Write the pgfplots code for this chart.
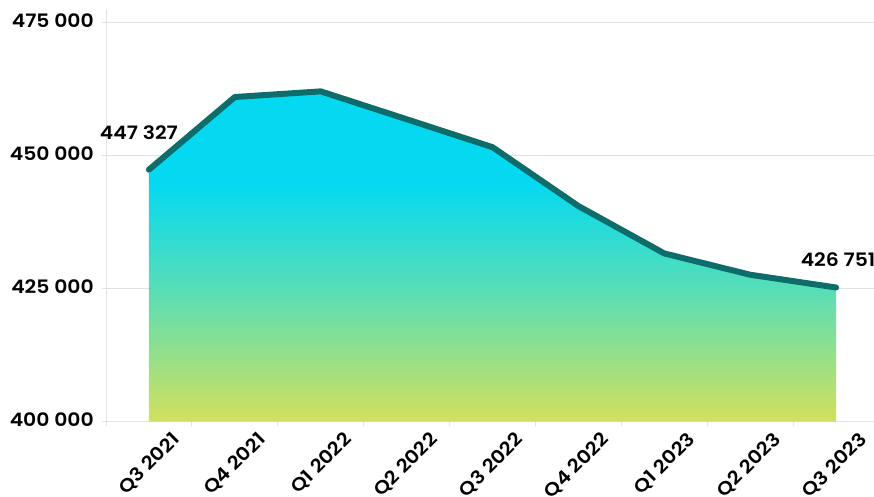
\documentclass[border=0pt]{standalone}
\usepackage{fontspec}
\setmainfont{Poppins}[BoldFont={Poppins SemiBold}, FakeStretch=1.1]
\usepackage{pgfplots}
\pgfplotsset{compat=1.18}

\definecolor{linecol}{RGB}{14,108,106}
\definecolor{topcyan}{RGB}{4,217,241}
\definecolor{midmint}{RGB}{88,222,182}
\definecolor{lowgreen}{RGB}{211,224,93}
\definecolor{gridgray}{RGB}{226,226,226}

% area fill: yellow-green at the bottom, cyan at the top
\pgfdeclareverticalshading{areagrad}{100bp}{color(0bp)=(lowgreen); color(25bp)=(lowgreen); color(45bp)=(midmint); color(61bp)=(topcyan); color(100bp)=(topcyan)}

\newcommand{\lblfont}{\fontsize{18.5}{20}\selectfont\bfseries}

\begin{document}
\begin{tikzpicture}
\useasboundingbox (0,0) rectangle (874pt,497pt);
\begin{axis}[
    at={(106pt,75.3pt)}, anchor=south west,
    scale only axis,
    width=773pt, height=412.7pt,
    xmin=-0.5, xmax=8.5,
    ymin=400000, ymax=477500,
    axis x line*=bottom, axis y line*=left,
    axis line style={gridgray, line width=1pt},
    xtick={0,...,8},
    xticklabels={Q3 2021,Q4 2021,Q1 2022,Q2 2022,Q3 2022,Q4 2022,Q1 2023,Q2 2023,Q3 2023},
    minor xtick={-0.5,0.5,...,8.5},
    ytick={400000,425000,450000,475000},
    yticklabels={400 000,425 000,450 000,475 000},
    ymajorgrids,
    grid style={gridgray, line width=1pt},
    tick align=outside,
    major tick length=4pt, minor tick length=4pt,
    every major x tick/.append style={draw=none},
    every minor x tick/.append style={gridgray, line width=1pt},
    every major y tick/.append style={gridgray, line width=1pt},
    tick label style={font=\lblfont, text=black},
    xticklabel style={rotate=45, anchor=north east, inner sep=0pt, xshift=12pt, yshift=-19pt},
    yticklabel style={inner sep=0pt, xshift=-8pt, yshift=2pt},
    clip=false,
]
    \addplot[draw=none, shading=areagrad, mark=none] coordinates {
        (0,400000) (0,447327) (1,460970) (2,462030) (3,456800) (4,451550)
        (5,440500) (6,431600) (7,427600) (8,425200) (8,400000)
    } -- cycle;
    \addplot[linecol, line width=6pt, line cap=round, line join=round, mark=none] coordinates {
        (0,447327) (1,460970) (2,462030) (3,456800) (4,451550)
        (5,440500) (6,431600) (7,427600) (8,425200)
    };
    \node[font=\lblfont, xshift=-10pt, yshift=37pt] at (axis cs:0,447327) {447 327};
    \node[font=\lblfont, xshift=2pt, yshift=28pt] at (axis cs:8,425200) {426 751};
\end{axis}
\end{tikzpicture}
\end{document}
